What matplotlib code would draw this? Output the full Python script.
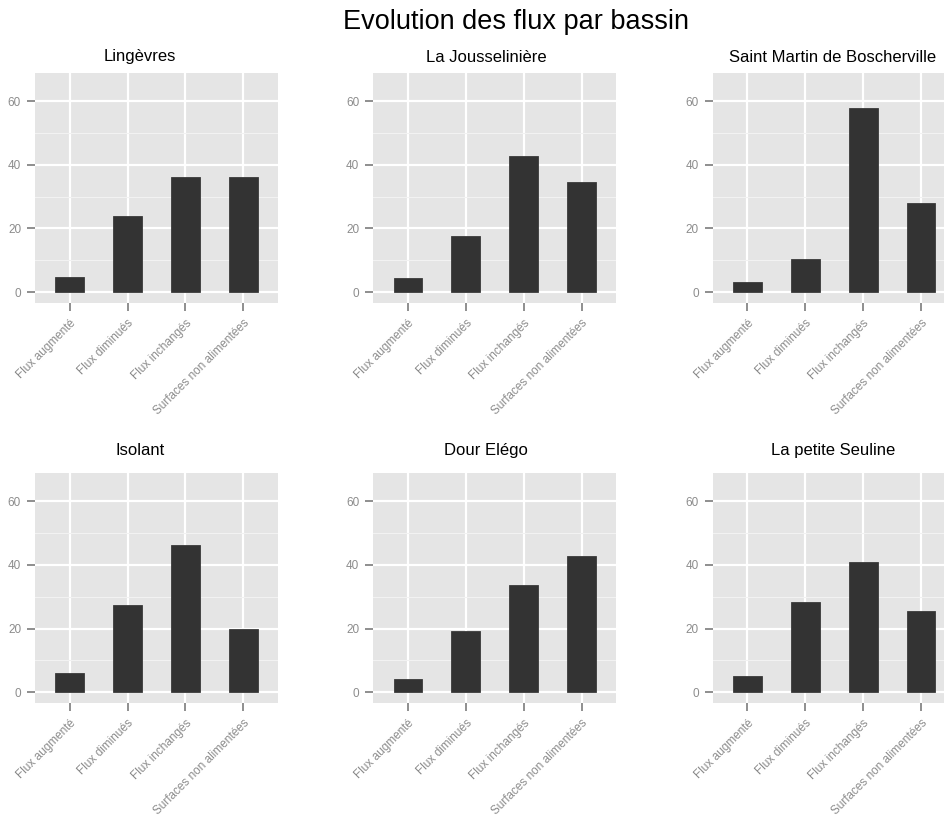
import matplotlib
matplotlib.use("Agg")
import matplotlib.pyplot as plt
from matplotlib.ticker import MultipleLocator

plt.rcParams['font.family'] = ['Liberation Sans', 'DejaVu Sans']

# donnees (pourcentages)
categories = ["Flux augmenté", "Flux diminués", "Flux inchangés", "Surfaces non alimentées"]
bassins = ["Lingèvres", "La Jousselinière", "Saint Martin de Boscherville",
           "Isolant", "Dour Elégo", "La petite Seuline"]
lingevres = [4.8, 23.9, 36.0, 36.0]
jousseliniere = [4.5, 17.5, 42.8, 34.7]
saint_martin = [3.1, 10.5, 57.9, 28.1]
isolant = [6.2, 27.4, 46.4, 20.0]
dour_elego = [4.1, 19.3, 33.6, 42.9]
petite_seuline = [5.1, 28.3, 40.8, 25.5]
valeurs = [lingevres, jousseliniere, saint_martin, isolant, dour_elego, petite_seuline]

W, H = 945, 816
fig = plt.figure(figsize=(W / 100, H / 100), dpi=100)

# positions des panneaux en pixels
col_left = [35, 373.3, 712.7]
row_top = [73, 473.3]
ax_w, ax_h = 243, 230
title_x = [140, 486, 833]
title_y = [57, 450]

gris_texte = "#8C8C8C"
gris_tick = "#707070"
x = list(range(1, len(categories) + 1))

for i, (nom, vals) in enumerate(zip(bassins, valeurs)):
    r, c = divmod(i, 3)
    ax = fig.add_axes([col_left[c] / W, 1 - (row_top[r] + ax_h) / H, ax_w / W, ax_h / H])
    ax.set_facecolor("#E5E5E5")
    ax.bar(x, vals, width=0.5, color="#333333", edgecolor="#3A3A3A", linewidth=0.6, zorder=3)
    ax.set_xlim(0.4, 4.6)
    ax.set_ylim(-3.45, 68.8)
    ax.set_xticks(x)
    ax.set_xticklabels(categories, rotation=45, ha="right", rotation_mode="anchor",
                       fontsize=8.5, color=gris_texte)
    ax.yaxis.set_major_locator(MultipleLocator(20))
    ax.yaxis.set_minor_locator(MultipleLocator(10))
    ax.tick_params(axis="y", labelsize=8.5, labelcolor=gris_texte, color=gris_tick,
                   length=6, width=1.1, pad=4)
    ax.tick_params(axis="x", color=gris_tick, length=6, width=1.1, pad=4)
    ax.tick_params(which="minor", length=0)
    ax.grid(which="major", color="white", linewidth=1.6, zorder=1)
    ax.grid(which="minor", axis="y", color="#F2F2F2", linewidth=0.8, zorder=1)
    ax.set_axisbelow(True)
    for s in ax.spines.values():
        s.set_visible(False)
    fig.text(title_x[c] / W, 1 - title_y[r] / H, nom, ha="center", va="center", fontsize=12)

fig.text(516 / W, 1 - 22 / H, "Evolution des flux par bassin", ha="center", va="center",
         fontsize=19.5)

fig.savefig("out.png", dpi=100, facecolor="white")
